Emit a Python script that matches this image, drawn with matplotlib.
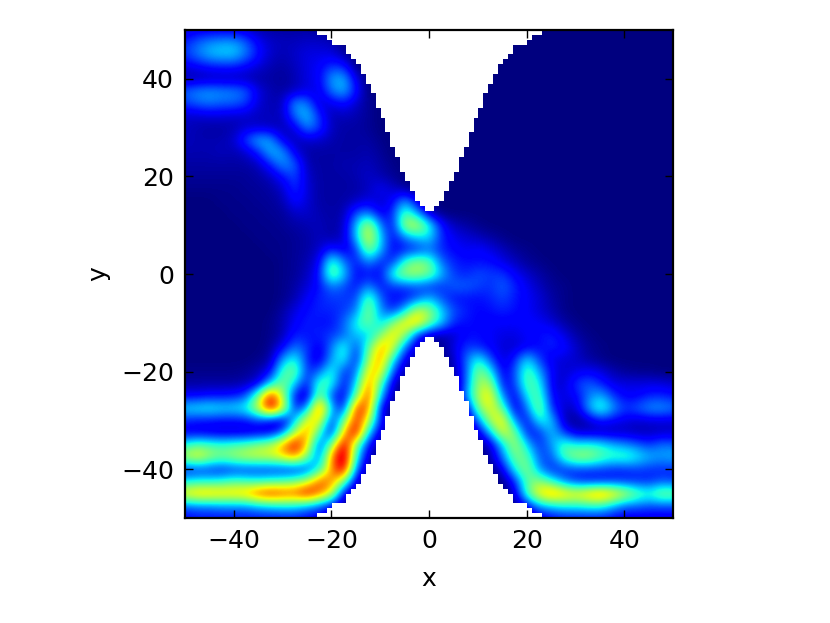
import numpy as np
import matplotlib
matplotlib.use('Agg')
import matplotlib.pyplot as plt
from matplotlib.colors import ListedColormap

# density, in percent of the colour scale
# one row per y (50 down to -50, step 2.5), one column per x (-50 to 50, step 2.5)
# short rows are zero up to the right edge
y_values = [50 - 2.5 * i for i in range(41)]
x_values = [-50 + 2.5 * i for i in range(41)]
density_rows = [
    [6, 8, 8, 8, 8, 6, 4, 3, 3, 3, 3, 2, 1],
    [14, 20, 24, 26, 26, 20, 10, 6, 5, 5, 6, 6, 5],
    [16, 22, 28, 30, 30, 22, 12, 6, 4, 6, 8, 8, 8, 3],
    [8, 10, 12, 13, 13, 10, 7, 4, 3, 5, 8, 10, 16, 14],
    [3, 3, 4, 4, 4, 4, 3, 3, 2, 4, 8, 10, 26, 28, 8],
    [20, 24, 25, 24, 23, 20, 8, 4, 3, 5, 8, 8, 22, 28, 12],
    [16, 20, 22, 20, 20, 16, 7, 4, 5, 26, 22, 6, 8, 12, 6, 2],
    [6, 6, 7, 7, 6, 6, 5, 5, 5, 22, 30, 14, 4, 5, 4, 2],
    [5, 4, 3, 3, 4, 6, 6, 5, 4, 8, 24, 16, 5, 3, 3, 2],
    [5, 4, 4, 4, 6, 18, 28, 26, 8, 4, 6, 6, 4, 3, 3, 3, 1],
    [4, 4, 4, 5, 4, 6, 14, 28, 26, 8, 3, 3, 3, 3, 3, 4, 2],
    [3, 3, 3, 3, 3, 3, 5, 14, 25, 20, 4, 3, 3, 4, 4, 5, 3, 1],
    [2, 2, 2, 2, 2, 2, 3, 5, 12, 18, 6, 3, 3, 3, 4, 6, 4, 2],
    [1, 1, 1, 1, 1, 2, 2, 3, 6, 16, 7, 3, 3, 3, 3, 5, 10, 6, 2],
    [0, 0, 0, 1, 1, 1, 2, 2, 4, 12, 7, 3, 3, 3, 5, 8, 6, 10, 25, 8],
    [0, 0, 0, 0, 1, 1, 1, 2, 2, 6, 6, 4, 3, 4, 18, 22, 8, 15, 42, 25, 5],
    [0, 0, 0, 0, 0, 1, 1, 1, 2, 3, 4, 5, 3, 5, 28, 55, 22, 10, 52, 55, 35, 12, 5, 3, 1],
    [0, 0, 0, 0, 0, 0, 1, 1, 1, 2, 3, 5, 3, 6, 28, 58, 30, 10, 22, 30, 32, 14, 9, 7, 5, 3, 1],
    [0, 0, 0, 0, 0, 0, 0, 1, 1, 2, 3, 6, 14, 8, 14, 48, 28, 10, 12, 14, 20, 14, 11, 9, 11, 8, 5, 2, 1],
    [0, 0, 0, 0, 0, 0, 0, 0, 1, 2, 4, 9, 40, 22, 12, 24, 14, 14, 38, 48, 42, 20, 14, 12, 12, 12, 8, 5, 2, 1],
    [0, 0, 0, 0, 0, 0, 0, 0, 1, 2, 5, 12, 46, 30, 10, 12, 10, 38, 50, 50, 45, 28, 16, 14, 18, 16, 16, 10, 6, 3, 1],
    [0, 0, 0, 0, 0, 0, 0, 0, 1, 3, 7, 12, 22, 18, 12, 24, 12, 16, 16, 18, 14, 15, 20, 20, 17, 15, 20, 14, 9, 5, 2, 1],
    [0, 0, 0, 0, 0, 0, 0, 0, 1, 4, 10, 14, 16, 16, 16, 44, 20, 10, 12, 18, 28, 18, 12, 12, 12, 14, 17, 13, 10, 7, 3, 1],
    [0, 0, 0, 0, 0, 0, 0, 0, 3, 8, 12, 14, 14, 16, 22, 48, 24, 14, 30, 55, 48, 30, 18, 14, 11, 12, 14, 12, 10, 7, 4, 1],
    [0, 0, 0, 0, 0, 0, 0, 1, 4, 10, 14, 12, 12, 20, 34, 44, 28, 46, 62, 66, 45, 30, 14, 12, 11, 10, 10, 10, 11, 10, 7, 3, 1],
    [0, 0, 0, 0, 0, 0, 0, 1, 4, 14, 12, 14, 16, 20, 30, 28, 45, 62, 50, 14, 4, 3, 6, 11, 12, 10, 8, 8, 10, 12, 14, 8, 3, 1],
    [0, 0, 0, 0, 0, 0, 0, 2, 10, 22, 16, 8, 22, 38, 15, 40, 66, 58, 20, 6, 0, 2, 8, 16, 14, 10, 7, 6, 10, 11, 14, 12, 6, 2, 1],
    [0, 0, 0, 0, 0, 0, 1, 3, 26, 36, 14, 6, 26, 36, 10, 48, 70, 34, 8, 2, 0, 0, 5, 20, 36, 18, 6, 14, 32, 16, 8, 7, 6, 3, 1],
    [1, 1, 1, 1, 1, 2, 4, 10, 40, 45, 14, 20, 38, 14, 20, 62, 62, 18, 3, 0, 0, 0, 3, 18, 48, 34, 8, 18, 42, 26, 10, 6, 8, 10, 8, 4, 2, 1, 1],
    [3, 3, 3, 3, 3, 4, 8, 30, 46, 30, 10, 42, 36, 10, 30, 72, 42, 6, 0, 0, 0, 0, 0, 20, 50, 50, 10, 16, 42, 35, 8, 6, 16, 20, 14, 8, 8, 8, 8, 8, 6],
    [10, 10, 12, 12, 13, 18, 45, 85, 50, 10, 4, 48, 16, 8, 42, 80, 28, 3, 0, 0, 0, 0, 0, 24, 52, 62, 22, 8, 34, 42, 10, 8, 10, 22, 28, 16, 10, 10, 14, 14, 12],
    [32, 34, 35, 33, 33, 36, 55, 88, 60, 12, 25, 80, 28, 10, 80, 72, 10, 0, 0, 0, 0, 0, 0, 6, 45, 58, 42, 6, 22, 48, 14, 6, 6, 26, 40, 26, 16, 20, 25, 26, 22],
    [14, 12, 12, 11, 11, 12, 16, 8, 4, 28, 60, 62, 12, 42, 82, 55, 12, 0, 0, 0, 0, 0, 0, 0, 22, 52, 62, 22, 10, 36, 30, 4, 1, 5, 12, 10, 8, 6, 7, 7, 7],
    [8, 8, 7, 6, 6, 6, 6, 8, 20, 52, 70, 38, 8, 65, 88, 30, 6, 0, 0, 0, 0, 0, 0, 0, 6, 28, 58, 45, 12, 14, 30, 16, 6, 5, 4, 4, 5, 4, 4, 5, 5],
    [36, 42, 40, 38, 40, 42, 48, 52, 68, 86, 62, 14, 45, 90, 45, 12, 0, 0, 0, 0, 0, 0, 0, 0, 0, 6, 30, 52, 30, 14, 25, 40, 34, 36, 34, 28, 24, 20, 16, 22, 20],
    [52, 60, 50, 46, 50, 54, 55, 55, 60, 68, 45, 18, 70, 95, 35, 5, 0, 0, 0, 0, 0, 0, 0, 0, 0, 3, 22, 45, 42, 18, 18, 40, 50, 50, 42, 38, 40, 34, 28, 26, 28],
    [12, 14, 14, 12, 14, 14, 14, 14, 13, 12, 16, 34, 68, 90, 20, 2, 0, 0, 0, 0, 0, 0, 0, 0, 0, 0, 8, 35, 48, 24, 14, 14, 16, 16, 16, 14, 14, 16, 15, 14, 14],
    [32, 34, 34, 36, 40, 38, 36, 38, 40, 44, 52, 75, 70, 45, 6, 0, 0, 0, 0, 0, 0, 0, 0, 0, 0, 0, 0, 14, 42, 48, 36, 22, 14, 12, 12, 14, 14, 14, 14, 18, 16],
    [62, 68, 68, 66, 66, 68, 78, 82, 78, 76, 86, 72, 55, 8, 0, 0, 0, 0, 0, 0, 0, 0, 0, 0, 0, 0, 0, 6, 40, 62, 72, 66, 62, 68, 74, 66, 56, 44, 38, 48, 46],
    [20, 22, 22, 24, 24, 24, 28, 30, 32, 32, 26, 20, 10, 0, 0, 0, 0, 0, 0, 0, 0, 0, 0, 0, 0, 0, 0, 0, 10, 26, 30, 34, 34, 36, 36, 28, 20, 20, 18, 18, 18],
    [10, 12, 12, 12, 12, 12, 12, 12, 12, 12, 10, 8, 1, 0, 0, 0, 0, 0, 0, 0, 0, 0, 0, 0, 0, 0, 0, 0, 0, 6, 10, 12, 12, 12, 12, 10, 8, 8, 8, 8, 8],
]

# half height of the open channel, one entry per unit of |x| from the centre
channel_half = [13, 14, 15, 17, 19, 21, 24, 26, 29, 32, 34, 37, 39, 41, 43, 44, 45,
                47, 47, 47, 48, 49, 49]

x_ticks = [-40, -20, 0, 20, 40]
y_ticks = [-40, -20, 0, 20, 40]

# pad the short rows with zeros
density = np.zeros((len(y_values), len(x_values)))
for i, row in enumerate(density_rows):
    density[i, :len(row)] = row

# wall cells, 1 unit wide
wall = np.zeros((100, 100))
for k, h in enumerate(channel_half):
    for col in (50 + k, 49 - k):
        wall[:, col][np.arange(-50, 50) + 1 > h] = 1
        wall[:, col][np.arange(-50, 50) < -h] = 1
wall = np.ma.masked_equal(wall, 0)

fig = plt.figure(figsize=(8.3, 6.23), dpi=100)
ax = fig.add_axes([185 / 830, 1 - 518 / 623, 488 / 830, 488 / 623])

step = x_values[1] - x_values[0]
ax.imshow(density, cmap='jet', vmin=0, vmax=90, interpolation='bicubic',
          extent=[x_values[0] - step / 2, x_values[-1] + step / 2,
                  y_values[-1] - step / 2, y_values[0] + step / 2])
ax.imshow(wall, cmap=ListedColormap(['white']), origin='lower',
          interpolation='nearest', extent=[-50, 50, -50, 50])

ax.set_xlim(-50, 50)
ax.set_ylim(-50, 50)
ax.set_aspect('auto')
ax.set_xticks(x_ticks)
ax.set_yticks(y_ticks)
ax.tick_params(direction='in', top=True, right=True, length=6, width=1,
               labelsize=18, pad=8)
for spine in ax.spines.values():
    spine.set_linewidth(1.6)
ax.set_xlabel('x', fontsize=18, labelpad=10)
ax.set_ylabel('y', fontsize=18, labelpad=8)

fig.savefig('out.png', dpi=100)
